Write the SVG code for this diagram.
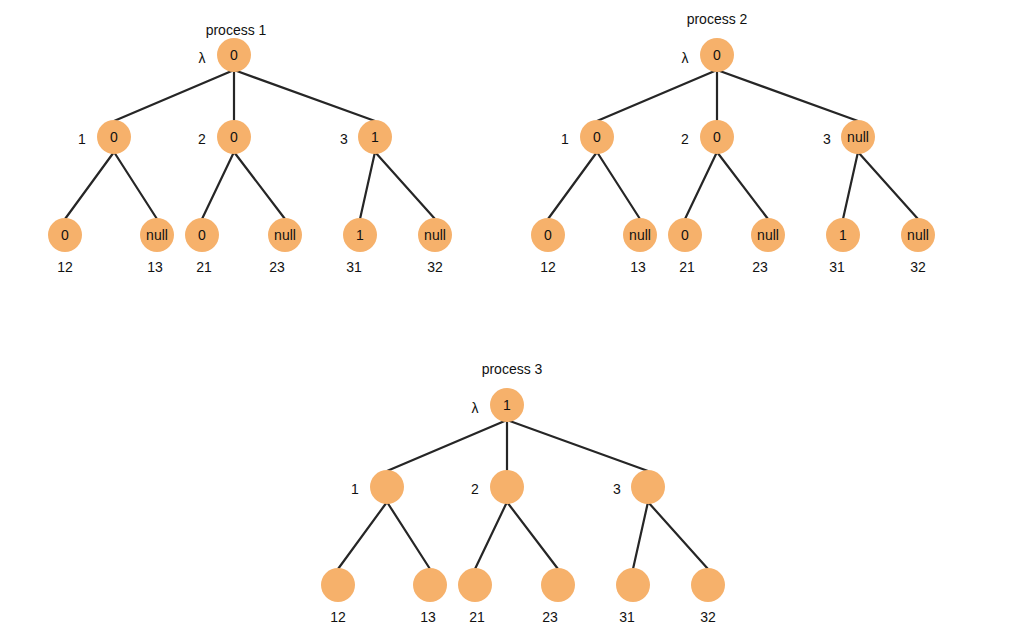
<svg xmlns="http://www.w3.org/2000/svg" width="1011" height="644" viewBox="0 0 1011 644">
<style>
.n{fill:#f6b16b}
.t{font-family:"Liberation Sans",Arial,sans-serif;font-size:14px;fill:#111;text-anchor:middle}
.e{stroke:#262626;stroke-width:2.2;fill:none}
</style>
<rect width="1011" height="644" fill="#fff"/>
<g id="connectors">
<g id="c1">
<path class="e" d="M234 70L114 121M234 70V121M234 70L375 121M114 152L65 219M114 152L157 219M234 152L202 219M234 152L285 219M375 152L360 219M375 152L435 219"/>
</g>
<g id="c2">
<path class="e" d="M717 70L597 121M717 70V121M717 70L858 121M597 152L548 219M597 152L640 219M717 152L685 219M717 152L768 219M858 152L843 219M858 152L918 219"/>
</g>
<g id="c3">
<path class="e" d="M507 420L387 471M507 420V471M507 420L648 471M387 502L338 569M387 502L430 569M507 502L475 569M507 502L558 569M648 502L633 569M648 502L708 569"/>
</g>
</g>
<g id="labels">
<text class="t" x="236" y="35">process 1</text>
<text class="t" x="717" y="24">process 2</text>
<text class="t" x="512" y="374">process 3</text>
<text class="t" x="202" y="63">λ</text><text class="t" x="685" y="63">λ</text><text class="t" x="475" y="413">λ</text>
<text class="t" x="82" y="144">1</text><text class="t" x="202" y="144">2</text><text class="t" x="344" y="144">3</text>
<text class="t" x="565" y="144">1</text><text class="t" x="685" y="144">2</text><text class="t" x="827" y="144">3</text>
<text class="t" x="355" y="494">1</text><text class="t" x="475" y="494">2</text><text class="t" x="617" y="494">3</text>
<text class="t" x="65" y="272">12</text><text class="t" x="155" y="272">13</text><text class="t" x="204" y="272">21</text><text class="t" x="277" y="272">23</text><text class="t" x="354" y="272">31</text><text class="t" x="435" y="272">32</text>
<text class="t" x="548" y="272">12</text><text class="t" x="638" y="272">13</text><text class="t" x="687" y="272">21</text><text class="t" x="760" y="272">23</text><text class="t" x="837" y="272">31</text><text class="t" x="918" y="272">32</text>
<text class="t" x="338" y="622">12</text><text class="t" x="428" y="622">13</text><text class="t" x="477" y="622">21</text><text class="t" x="550" y="622">23</text><text class="t" x="627" y="622">31</text><text class="t" x="708" y="622">32</text>
</g>
<g id="p1-root"><circle class="n" cx="234" cy="55" r="17"/><text class="t" x="234" y="60">0</text></g>
<g id="p1-n1"><circle class="n" cx="114" cy="137" r="17"/><text class="t" x="114" y="142">0</text></g>
<g id="p1-n2"><circle class="n" cx="234" cy="137" r="17"/><text class="t" x="234" y="142">0</text></g>
<g id="p1-n3"><circle class="n" cx="375" cy="137" r="17"/><text class="t" x="375" y="142">1</text></g>
<g id="p1-n12"><circle class="n" cx="65" cy="235" r="17"/><text class="t" x="65" y="240">0</text></g>
<g id="p1-n13"><circle class="n" cx="157" cy="235" r="17"/><text class="t" x="157" y="240">null</text></g>
<g id="p1-n21"><circle class="n" cx="202" cy="235" r="17"/><text class="t" x="202" y="240">0</text></g>
<g id="p1-n23"><circle class="n" cx="285" cy="235" r="17"/><text class="t" x="285" y="240">null</text></g>
<g id="p1-n31"><circle class="n" cx="360" cy="235" r="17"/><text class="t" x="360" y="240">1</text></g>
<g id="p1-n32"><circle class="n" cx="435" cy="235" r="17"/><text class="t" x="435" y="240">null</text></g>
<g id="p2-root"><circle class="n" cx="717" cy="55" r="17"/><text class="t" x="717" y="60">0</text></g>
<g id="p2-n1"><circle class="n" cx="597" cy="137" r="17"/><text class="t" x="597" y="142">0</text></g>
<g id="p2-n2"><circle class="n" cx="717" cy="137" r="17"/><text class="t" x="717" y="142">0</text></g>
<g id="p2-n3"><circle class="n" cx="858" cy="137" r="17"/><text class="t" x="858" y="142">null</text></g>
<g id="p2-n12"><circle class="n" cx="548" cy="235" r="17"/><text class="t" x="548" y="240">0</text></g>
<g id="p2-n13"><circle class="n" cx="640" cy="235" r="17"/><text class="t" x="640" y="240">null</text></g>
<g id="p2-n21"><circle class="n" cx="685" cy="235" r="17"/><text class="t" x="685" y="240">0</text></g>
<g id="p2-n23"><circle class="n" cx="768" cy="235" r="17"/><text class="t" x="768" y="240">null</text></g>
<g id="p2-n31"><circle class="n" cx="843" cy="235" r="17"/><text class="t" x="843" y="240">1</text></g>
<g id="p2-n32"><circle class="n" cx="918" cy="235" r="17"/><text class="t" x="918" y="240">null</text></g>
<g id="p3-root"><circle class="n" cx="507" cy="405" r="17"/><text class="t" x="507" y="410">1</text></g>
<g id="p3-n1"><circle class="n" cx="387" cy="487" r="17"/></g>
<g id="p3-n2"><circle class="n" cx="507" cy="487" r="17"/></g>
<g id="p3-n3"><circle class="n" cx="648" cy="487" r="17"/></g>
<g id="p3-n12"><circle class="n" cx="338" cy="585" r="17"/></g>
<g id="p3-n13"><circle class="n" cx="430" cy="585" r="17"/></g>
<g id="p3-n21"><circle class="n" cx="475" cy="585" r="17"/></g>
<g id="p3-n23"><circle class="n" cx="558" cy="585" r="17"/></g>
<g id="p3-n31"><circle class="n" cx="633" cy="585" r="17"/></g>
<g id="p3-n32"><circle class="n" cx="708" cy="585" r="17"/></g>
</svg>
